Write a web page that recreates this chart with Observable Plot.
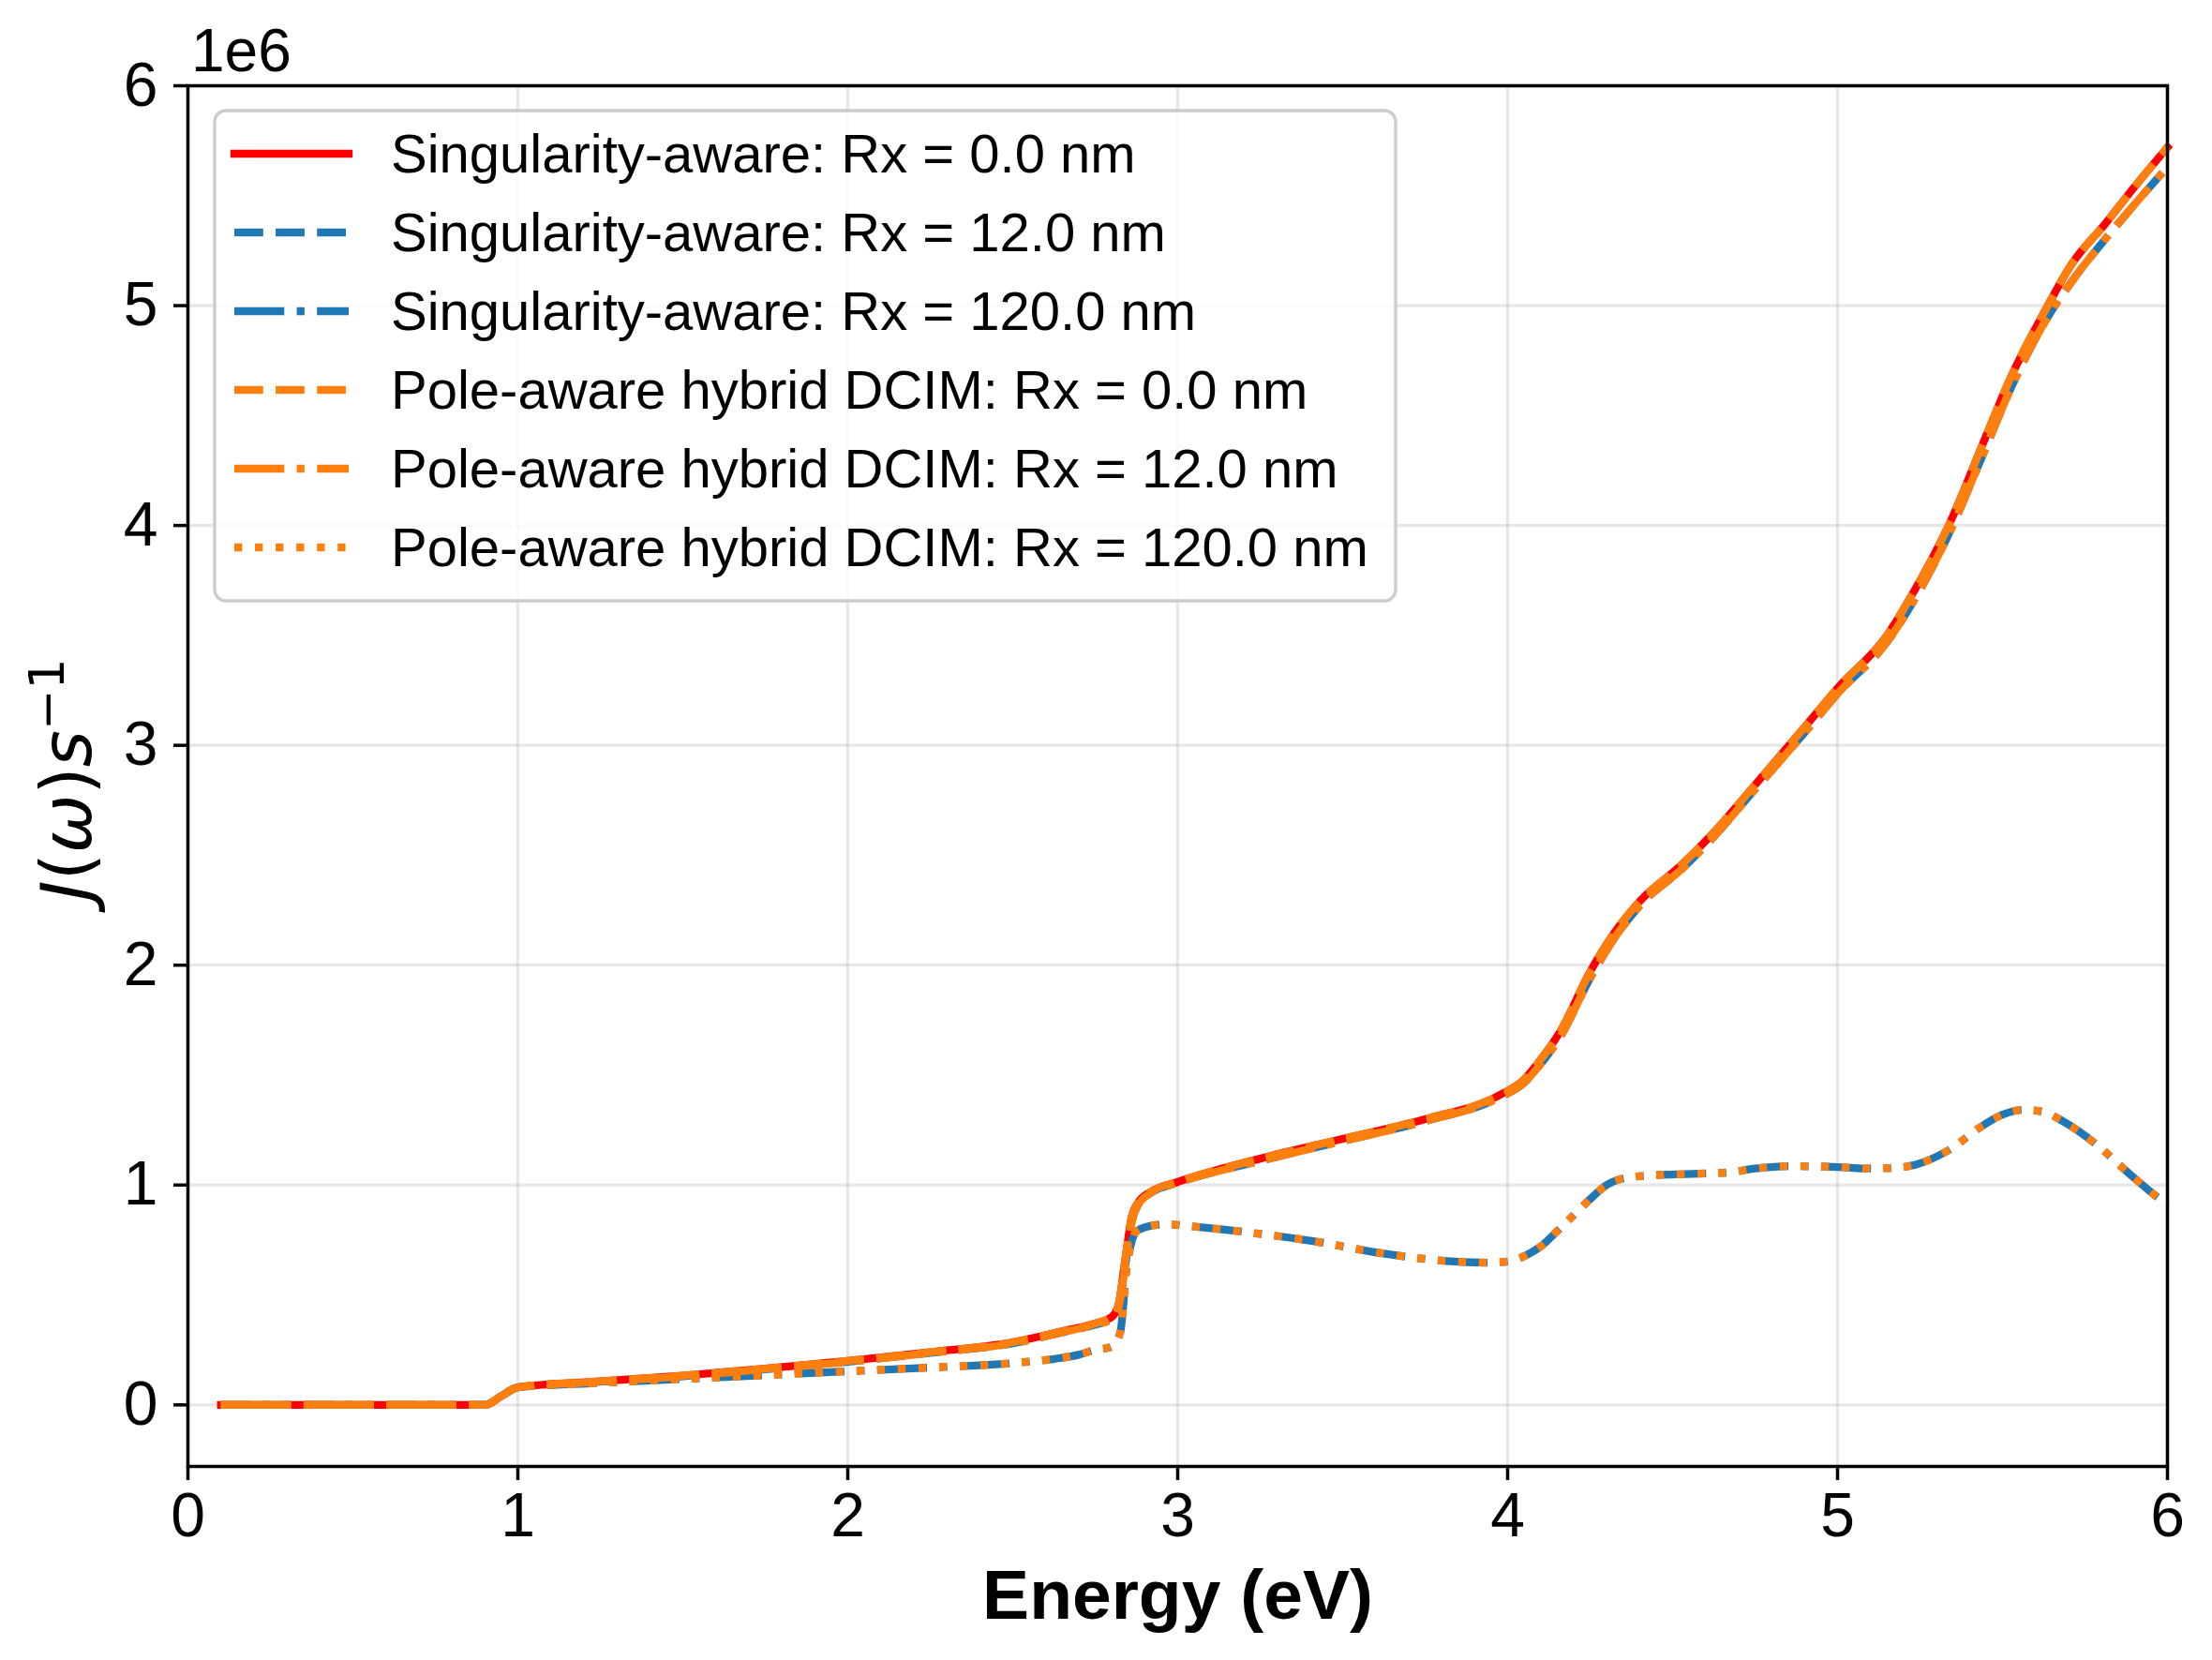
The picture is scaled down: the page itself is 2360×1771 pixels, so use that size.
<!DOCTYPE html>
<html>
<head>
<meta charset="utf-8">
<script src="https://cdn.jsdelivr.net/npm/d3@7"></script>
<script src="https://cdn.jsdelivr.net/npm/@observablehq/plot@0.6"></script>
<style>
  html, body { margin: 0; padding: 0; background: white; }
  #chart svg { display: block; }
</style>
</head>
<body>
<div id="chart"></div>
<script>
// ---- data (J values in units of 1e6 s^-1) ----
const energyUpper = [0.1, 0.9, 0.95, 1.0, 1.25, 1.5, 1.75, 2.0, 2.25, 2.5, 2.65, 2.75, 2.8, 2.82, 2.84, 2.86, 2.88, 2.92, 3.0, 3.25, 3.5, 3.75, 3.97, 4.05, 4.1, 4.16, 4.25, 4.32, 4.4, 4.53, 4.61, 4.75, 4.91, 5.0, 5.15, 5.22, 5.34, 5.44, 5.53, 5.63, 5.71, 5.81, 5.9, 6.0];
const jRx0 = [0, 0, 0.04, 0.08, 0.107, 0.133, 0.165, 0.20, 0.24, 0.285, 0.335, 0.37, 0.40, 0.45, 0.65, 0.85, 0.92, 0.97, 1.014, 1.12, 1.21, 1.30, 1.405, 1.48, 1.57, 1.70, 1.97, 2.14, 2.29, 2.46, 2.58, 2.82, 3.10, 3.26, 3.50, 3.67, 4.01, 4.37, 4.69, 4.98, 5.19, 5.37, 5.54, 5.72];
const jRx12 = [0, 0, 0.04, 0.08, 0.105, 0.130, 0.162, 0.196, 0.236, 0.28, 0.33, 0.365, 0.39, 0.44, 0.62, 0.83, 0.91, 0.965, 1.01, 1.11, 1.20, 1.29, 1.395, 1.465, 1.55, 1.675, 1.94, 2.115, 2.27, 2.44, 2.56, 2.80, 3.075, 3.235, 3.47, 3.63, 3.97, 4.32, 4.64, 4.93, 5.11, 5.30, 5.46, 5.63];
const energyLower = [0.1, 0.9, 0.95, 1.0, 1.25, 1.5, 1.75, 2.0, 2.25, 2.5, 2.63, 2.7, 2.75, 2.79, 2.8, 2.826, 2.845, 2.86, 2.876, 2.92, 2.97, 3.0, 3.2, 3.41, 3.625, 3.84, 3.94, 4.0, 4.056, 4.1, 4.157, 4.246, 4.3, 4.35, 4.45, 4.54, 4.667, 4.75, 4.85, 5.0, 5.1, 5.17, 5.235, 5.337, 5.44, 5.5, 5.56, 5.62, 5.69, 5.78, 5.88, 5.976, 6.0];
const jRx120 = [0, 0, 0.04, 0.08, 0.10, 0.118, 0.135, 0.153, 0.17, 0.19, 0.21, 0.228, 0.25, 0.26, 0.265, 0.33, 0.62, 0.74, 0.79, 0.815, 0.822, 0.818, 0.787, 0.745, 0.688, 0.652, 0.647, 0.652, 0.68, 0.72, 0.80, 0.93, 1.0, 1.03, 1.045, 1.05, 1.057, 1.075, 1.086, 1.082, 1.075, 1.078, 1.092, 1.159, 1.27, 1.32, 1.342, 1.334, 1.284, 1.19, 1.057, 0.937, 0.91];

const seriesLabels = [
  "Singularity-aware: Rx = 0.0 nm",
  "Singularity-aware: Rx = 12.0 nm",
  "Singularity-aware: Rx = 120.0 nm",
  "Pole-aware hybrid DCIM: Rx = 0.0 nm",
  "Pole-aware hybrid DCIM: Rx = 12.0 nm",
  "Pole-aware hybrid DCIM: Rx = 120.0 nm"
];
const seriesColors = ["#ff0000", "#1f77b4", "#1f77b4", "#ff7f0e", "#ff7f0e", "#ff7f0e"];
const seriesDash = [null, "30.8,13.3", "53.3,13.3,8.3,13.3", "30.8,13.3", "53.3,13.3,8.3,13.3", "8.3,13.75"];
const seriesX = [energyUpper, energyUpper, energyLower, energyUpper, energyUpper, energyLower];
const seriesY = [jRx0, jRx12, jRx120, jRx0, jRx12, jRx120];

const xTicks = [0, 1, 2, 3, 4, 5, 6];
const yTicks = [0, 1, 2, 3, 4, 5, 6];

const LW = 8.3;
const FONT = "'Liberation Sans', Arial, sans-serif";

const lineMarks = seriesLabels.map((lab, i) => {
  const rows = seriesX[i].map((e, k) => ({energy: e, j: seriesY[i][k]}));
  const opts = {x: "energy", y: "j", stroke: seriesColors[i], strokeWidth: LW, curve: "monotone-x", strokeLinejoin: "round"};
  if (seriesDash[i]) { opts.strokeDasharray = seriesDash[i]; opts.strokeLinecap = "butt"; }
  else { opts.strokeLinecap = "square"; }
  return Plot.line(rows, opts);
});

const chart = Plot.plot({
  width: 2360,
  height: 1771,
  marginLeft: 200,
  marginRight: 48,
  marginTop: 91,
  marginBottom: 207,
  style: {fontFamily: FONT, background: "white", color: "black"},
  x: {domain: [0, 6]},
  y: {domain: [-0.28, 6.0]},
  marks: [
    Plot.gridX(xTicks, {stroke: "#b0b0b0", strokeOpacity: 0.3, strokeWidth: 3.3}),
    Plot.gridY(yTicks, {stroke: "#b0b0b0", strokeOpacity: 0.3, strokeWidth: 3.3}),
    ...lineMarks,
    Plot.frame({stroke: "black", strokeWidth: 3.5}),
    Plot.axisX(xTicks, {tickSize: 15, tickPadding: 13, fontSize: 66, strokeWidth: 3.5, label: null, tickFormat: d => String(d)}),
    Plot.axisY(yTicks, {tickSize: 15, tickPadding: 17, fontSize: 66, strokeWidth: 3.5, label: null, tickFormat: d => String(d)}),
    Plot.text(["Energy (eV)"], {frameAnchor: "bottom", dy: 162, fontSize: 75, fontWeight: "bold", fill: "black"})
  ]
});

document.getElementById("chart").appendChild(chart);

const svg = d3.select(chart);

// offset text
svg.append("text")
  .attr("x", 204).attr("y", 76)
  .attr("text-anchor", "start")
  .attr("font-size", 64)
  .attr("font-family", FONT)
  .text("1e6");

// y label: J(ω)s^{-1}
const yl = svg.append("text")
  .attr("transform", "translate(97,832) rotate(-90)")
  .attr("text-anchor", "middle")
  .attr("font-family", "'DejaVu Sans', sans-serif")
  .attr("font-size", 75);
yl.append("tspan").attr("font-style", "italic").text("J");
yl.append("tspan").text("(");
yl.append("tspan").attr("font-style", "italic").text("ω");
yl.append("tspan").text(")");
yl.append("tspan").attr("font-style", "italic").text("s");
yl.append("tspan").attr("dy", -29).attr("font-size", 52).text("−1");

// legend
const lg = svg.append("g").attr("text-anchor", "start");
lg.append("rect")
  .attr("x", 229).attr("y", 118).attr("width", 1260).attr("height", 523)
  .attr("rx", 12).attr("ry", 12)
  .attr("fill", "white").attr("fill-opacity", 0.8)
  .attr("stroke", "#cccccc").attr("stroke-width", 3.3);
seriesLabels.forEach((lab, i) => {
  const yc = 164 + i * 84;
  const ln = lg.append("line")
    .attr("x1", 250).attr("x2", 372).attr("y1", yc).attr("y2", yc)
    .attr("stroke", seriesColors[i]).attr("stroke-width", LW)
    .attr("stroke-linecap", seriesDash[i] ? "butt" : "square");
  if (seriesDash[i]) ln.attr("stroke-dasharray", seriesDash[i]);
  lg.append("text")
    .attr("x", 417).attr("y", 184 + i * 84)
    .attr("text-anchor", "start")
    .attr("font-size", 58)
    .attr("font-family", FONT)
    .text(lab);
});
</script>
</body>
</html>
